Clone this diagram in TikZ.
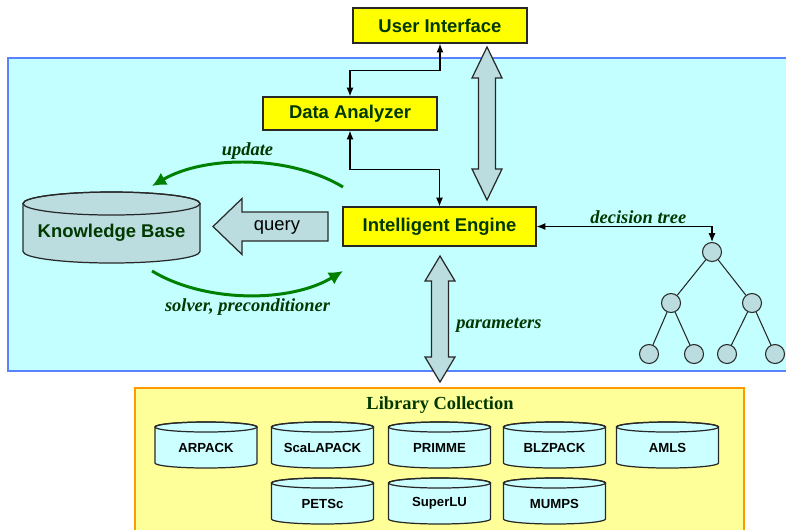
\documentclass[tikz,border=0pt]{standalone}
\usepackage{fontspec}
\setmainfont{Liberation Sans}
\newfontfamily\tmsfont{Liberation Serif}
\usetikzlibrary{arrows.meta}
\definecolor{cyanbg}{RGB}{196,255,255}
\definecolor{blueline}{RGB}{90,130,255}
\definecolor{boxyellow}{RGB}{255,255,0}
\definecolor{boxline}{RGB}{40,40,40}
\definecolor{txtgreen}{RGB}{0,56,0}
\definecolor{dbfill}{RGB}{187,221,224}
\definecolor{libfill}{RGB}{204,255,255}
\definecolor{libbg}{RGB}{255,255,153}
\definecolor{orangeline}{RGB}{255,153,0}
\definecolor{flowgreen}{RGB}{0,128,0}

% fat double arrow: x, top y, bottom y, head length
\newcommand{\fatarrow}[4]{%
  \draw[fatarrow] (#1,#2) -- ({#1+15},{#2+#4}) -- ({#1+8.5},{#2+#4})
    -- ({#1+8.5},{#3-#4}) -- ({#1+15},{#3-#4}) -- (#1,#3)
    -- ({#1-15},{#3-#4}) -- ({#1-8.5},{#3-#4}) -- ({#1-8.5},{#2+#4})
    -- ({#1-15},{#2+#4}) -- cycle;}

% database drum: name, x, y, half width, half height, rim radius, style prefix, text
\newcommand{\dbcyl}[8]{%
  \coordinate (#1-c) at (#2,#3);
  \filldraw[#7-body] ([shift={({-#4},{#5-#6})}]#1-c) -- ([shift={({-#4},{-#5+#6})}]#1-c)
    arc[start angle=180, end angle=360, x radius=#4, y radius=#6]
    -- ([shift={(#4,{#5-#6})}]#1-c)
    arc[start angle=0, end angle=180, x radius=#4, y radius=#6] -- cycle;
  \draw[#7-body, fill=none] ([shift={(0,{#5-#6})}]#1-c) ellipse[x radius=#4, y radius=#6];
  \node[#7-text] (#1) at ([yshift={-#6/2}]#1-c) {#8};}

\tikzset{
  box/.style={draw=boxline, line width=0.7pt, fill=boxyellow, text=txtgreen,
    font=\fontsize{10.5}{12}\selectfont\bfseries, inner sep=0pt,
    minimum width=3.48cm, minimum height=0.7cm},
  link/.style={line width=0.7pt, {Latex[length=5pt,width=4pt]}-{Latex[length=5pt,width=4pt]}},
  flow/.style={flowgreen, line width=1.7pt, -{Latex[length=8pt,width=8pt]}},
  lbl/.style={text=txtgreen, inner sep=1pt,
    font=\tmsfont\fontsize{10.5}{12}\selectfont\bfseries\itshape},
  kb-body/.style={draw=boxline, fill=dbfill, line width=0.7pt},
  kb-text/.style={text=txtgreen, font=\fontsize{10.5}{12}\selectfont\bfseries},
  lib-body/.style={draw=boxline, fill=libfill, line width=0.7pt},
  lib-text/.style={font=\fontsize{7.5}{9}\selectfont\bfseries},
  treenode/.style={circle, draw=boxline, line width=0.6pt, fill=dbfill,
    minimum size=0.38cm, inner sep=0pt},
  fatarrow/.style={draw=boxline, fill=dbfill, line width=0.7pt}
}

\begin{document}
\begin{tikzpicture}[x=0.02cm, y=-0.02cm]
\useasboundingbox (0,0) rectangle (786,529);

% Panels
\draw[blueline, line width=0.9pt, fill=cyanbg] (8,58) rectangle (800,371);
\draw[orangeline, line width=0.9pt, fill=libbg] (135,388) rectangle (744,540);

% Main boxes
\node[box] (ui) at (440,25.5) {User Interface};
\node[box, minimum height=0.66cm] (da) at (350,113.5) {Data Analyzer};
\node[box, minimum width=3.86cm, minimum height=0.78cm] (ie) at (439.5,226.5) {Intelligent Engine};

% Knowledge base
\dbcyl{kb}{111.5}{227.5}{1.77cm}{0.71cm}{0.23cm}{kb}{Knowledge Base}

% query arrow
\draw[fatarrow] (328,212) -- (242,212) -- (242,198.5) -- (213,226.5)
  -- (242,254.5) -- (242,241) -- (328,241) -- cycle;
\node[font=\fontsize{10.5}{12}\selectfont] (query) at (277,227) {query};

% Links
\draw[link] (ui.south) -- ++(0,27) -| (da.north);
\draw[link] (da.south) -- ++(0,39) -| (ie.north);

% Fat arrows
\fatarrow{487}{47}{200}{31}
\fatarrow{440}{256}{382}{25}
\node[lbl] (par) at (499,325) {parameters};

% Green flows
\draw[flow] (343,187) .. controls (290,155) and (205,155) .. (152,186)
  node[lbl, midway, above] {update};
\draw[flow] (152,271) .. controls (205,303) and (290,303) .. (343,271)
  node[lbl, midway, below] {solver, preconditioner};

% Decision tree
\node[treenode] (root) at (712,252) {};
\node[treenode] (t1) at (671,303) {};
\node[treenode] (t2) at (752,303) {};
\node[treenode] (t11) at (649,354) {};
\node[treenode] (t12) at (694,354) {};
\node[treenode] (t21) at (727,354) {};
\node[treenode] (t22) at (775,354) {};
\draw[line width=0.6pt, boxline] (root) -- (t1) (root) -- (t2)
  (t1) -- (t11) (t1) -- (t12) (t2) -- (t21) (t2) -- (t22);
\draw[link] (ie.east) -| node[lbl, pos=0.29, above] {decision tree} (root.north);

% Library collection
\node[text=txtgreen, font=\tmsfont\fontsize{10.5}{12}\selectfont\bfseries] (libtitle) at (440,405) {Library Collection};
\foreach \name/\x/\y/\txt in {arpack/206/445/ARPACK, scalapack/322.5/445/ScaLAPACK,
  primme/439.5/445/PRIMME, blzpack/554.5/445/BLZPACK, amls/667.5/445/AMLS,
  petsc/322.5/501/PETSc, superlu/439.5/501/SuperLU, mumps/554.5/501/MUMPS} {
  \dbcyl{\name}{\x}{\y}{1.02cm}{0.46cm}{0.1cm}{lib}{\txt}
}

\end{tikzpicture}
\end{document}
